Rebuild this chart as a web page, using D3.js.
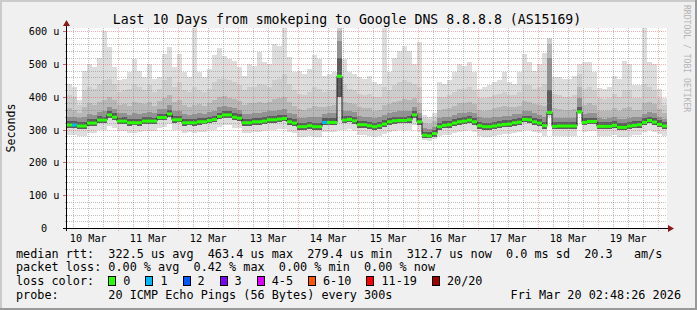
<!DOCTYPE html>
<html>
<head>
<meta charset="utf-8">
<script src="https://cdn.jsdelivr.net/npm/d3@7"></script>
<style>
  html, body { margin: 0; padding: 0; background: #f0f0f0; }
  svg { display: block; }
  text { font-family: "DejaVu Sans Mono", monospace; white-space: pre; }
</style>
</head>
<body>
<svg id="chart" width="697" height="310"></svg>
<script>
const title = 'Last 10 Days from smokeping to Google DNS 8.8.8.8 (AS15169)';
const startTime = Date.UTC(2026, 2, 10, 3, 30);
const stepHours = 2;
const yTicks = [0, 100, 200, 300, 400, 500, 600];

// one value per 2 hour step, microseconds
const rttMedian = [314,314,311,311,320,320,329,329,345,338,
  326,326,321,321,321,326,326,326,337,337,
  348,330,330,321,321,321,324,324,328,331,
  340,345,345,338,335,321,321,324,324,326,
  330,330,332,334,324,320,309,309,312,309,
  309,322,322,322,463,329,331,327,315,315,
  312,309,312,317,324,327,328,328,330,345,
  324,283,281,288,309,313,315,320,324,326,
  329,324,312,309,309,311,314,316,317,321,
  323,331,330,324,320,312,352,310,311,311,
  311,311,354,322,325,325,310,310,310,313,
  307,307,311,313,315,322,328,323,316,311];

const rttMax = [440,430,390,480,500,490,520,600,552,490,
  450,455,475,515,480,460,500,455,460,530,
  552,490,530,475,460,610,475,460,485,527,
  550,525,515,510,490,465,500,495,537,506,
  500,560,555,610,521,476,480,470,485,527,
  515,465,470,475,610,515,475,470,460,455,
  465,445,440,610,475,520,540,555,540,500,
  567,345,340,350,445,440,450,475,500,495,
  505,475,425,430,435,445,450,475,445,440,
  475,530,505,480,500,535,580,460,460,455,
  455,465,500,505,505,475,427,425,430,465,
  455,510,500,435,435,610,505,500,425,395];

const rttP90 = [405,400,375,420,430,425,440,450,455,440,
  415,420,425,440,430,420,435,415,425,450,
  460,430,445,420,415,430,420,415,425,445,
  455,455,450,445,435,420,430,430,440,435,
  430,450,455,470,440,420,410,405,415,430,
  425,415,420,420,610,440,425,420,410,405,
  410,400,400,430,420,435,445,450,445,440,
  430,335,332,340,400,400,405,415,425,425,
  430,420,395,395,400,405,408,415,405,405,
  415,440,435,425,430,440,575,410,405,400,
  400,405,470,425,430,420,395,392,395,410,
  400,420,420,398,398,440,430,420,395,375];

const rttP75 = [365,360,350,370,380,375,385,390,400,390,
  375,378,372,385,380,378,385,372,388,395,
  405,385,390,375,370,375,378,372,380,390,
  400,402,398,392,388,375,380,380,385,382,
  385,392,395,400,385,372,362,360,365,372,
  370,370,372,375,600,385,380,378,368,365,
  365,358,360,375,378,385,388,392,390,395,
  380,320,318,325,360,362,365,372,380,380,
  385,378,360,358,360,365,368,372,368,370,
  372,388,385,378,375,372,560,365,362,360,
  360,362,430,375,380,375,358,356,358,365,
  358,365,368,360,360,380,385,378,362,350];

const rttP65 = [340,338,335,338,348,346,355,356,370,362,
  350,352,346,350,348,352,354,350,362,364,
  375,356,358,348,345,348,350,348,354,358,
  368,372,370,365,360,348,348,352,352,354,
  356,358,360,362,352,348,336,335,340,338,
  338,348,350,350,570,356,356,354,342,340,
  338,335,338,344,350,354,356,358,358,370,
  352,305,302,308,335,338,340,345,350,352,
  355,350,338,335,335,338,340,342,343,347,
  348,358,356,350,346,340,520,336,336,335,
  335,336,395,348,350,350,334,333,334,338,
  331,333,336,338,340,348,354,350,340,332];

const rttP55 = [326,325,322,323,332,333,341,340,357,350,
  337,338,333,333,332,338,339,337,349,349,
  360,342,342,333,333,333,336,336,340,343,
  352,357,357,350,347,333,333,336,336,338,
  342,342,344,346,336,332,321,321,324,321,
  321,334,334,334,520,341,343,339,327,327,
  324,321,324,329,336,339,340,340,342,357,
  336,294,292,298,321,325,327,332,336,338,
  341,336,324,321,321,323,326,328,329,333,
  335,343,342,336,332,324,420,322,323,323,
  323,323,370,334,337,337,322,322,322,325,
  319,319,323,325,327,334,340,335,328,323];

const rttP40 = [305,306,302,302,311,312,320,320,334,329,
  317,318,312,313,312,317,318,317,328,329,
  339,321,322,312,313,312,315,316,319,322,
  331,336,336,329,326,312,312,315,315,317,
  321,321,323,325,315,311,300,300,303,300,
  300,313,313,313,400,320,322,318,306,306,
  303,300,303,308,315,318,319,319,321,336,
  315,275,273,279,300,304,306,311,315,317,
  320,315,303,300,300,302,305,307,308,312,
  314,322,321,315,311,303,345,301,302,302,
  302,302,350,313,316,316,301,301,301,304,
  298,298,302,304,306,313,319,314,307,302];

const rttMin = [284,285,282,281,289,291,298,300,312,306,
  295,297,290,291,292,296,296,295,306,307,
  316,300,300,291,292,290,294,294,298,300,
  308,314,313,306,304,290,291,294,293,296,
  299,300,301,303,293,289,279,279,282,279,
  279,292,292,292,300,299,301,297,285,285,
  282,279,282,287,294,297,298,298,300,314,
  294,268,266,272,280,283,285,290,294,296,
  298,293,282,279,279,281,284,286,287,291,
  293,300,299,293,289,282,340,280,281,281,
  281,281,348,292,295,295,280,280,280,283,
  277,277,281,283,285,292,298,293,286,281];

// steps where one of the 20 pings was lost
const lossSteps = [1, 51];

const lossLabels = ['0', '1', '2', '3', '4-5', '6-10', '11-19', '20/20'];
const lossColors = ['#26ff00', '#00b8ff', '#0059ff', '#7e00ff', '#dd00ff', '#ff5500', '#ff0000', '#a10000'];

const legendLines = [
  'median rtt:  322.5 us avg  463.4 us max  279.4 us min  312.7 us now  0.0 ms sd  20.3   am/s',
  'packet loss: 0.00 % avg  0.42 % max  0.00 % min  0.00 % now'
];
const probeLine = 'probe:       20 ICMP Echo Pings (56 Bytes) every 300s';
const stampLine = 'Fri Mar 20 02:48:26 2026';

const width = 697;
const height = 310;
const area = { left: 67, right: 667, top: 28, bottom: 228 };
const legendFont = 11.8;
const charW = legendFont * 0.602;

const svg = d3.select('#chart');

// background and 3d border
svg.append('rect').attr('width', width).attr('height', height).attr('fill', '#f0f0f0');
svg.append('rect').attr('width', width).attr('height', 2).attr('fill', '#cbcbcb');
svg.append('rect').attr('width', 2).attr('height', height).attr('fill', '#cbcbcb');
svg.append('rect').attr('y', height - 2).attr('width', width).attr('height', 2).attr('fill', '#999999');
svg.append('rect').attr('x', width - 2).attr('width', 2).attr('height', height).attr('fill', '#999999');

svg.append('rect')
  .attr('x', area.left).attr('y', area.top)
  .attr('width', area.right - area.left).attr('height', area.bottom - area.top)
  .attr('fill', '#ffffff');

const hour = 3600 * 1000;
const n = rttMedian.length;
const endTime = startTime + n * stepHours * hour;

const x = d3.scaleUtc()
  .domain([new Date(startTime), new Date(endTime)])
  .range([area.left, area.right]);

const y = d3.scaleLinear().domain([0, 610]).range([area.bottom, area.top]);

const rows = rttMedian.map((m, i) => ({
  t: new Date(startTime + i * stepHours * hour),
  t1: new Date(startTime + (i + 1) * stepHours * hour),
  med: m,
  max: rttMax[i], p90: rttP90[i], p75: rttP75[i], p65: rttP65[i], p55: rttP55[i],
  p40: rttP40[i], min: rttMin[i],
  loss: lossSteps.includes(i) ? 1 : 0
}));
// closing point so the last step gets its width
const stepRows = rows.concat([{ ...rows[n - 1], t: new Date(endTime) }]);

// smoke, outer band first
const smoke = [
  ['min', 'max', '#dddddd'],
  ['p40', 'p90', '#cdcdcd'],
  ['p40', 'p75', '#b7b7b7'],
  ['p40', 'p65', '#929292'],
  ['p40', 'p55', '#5c5c5c']
];

const smokeG = svg.append('g').attr('shape-rendering', 'crispEdges');
smoke.forEach(([lo, hi, color]) => {
  smokeG.append('path')
    .datum(stepRows)
    .attr('fill', color)
    .attr('d', d3.area()
      .curve(d3.curveStepAfter)
      .x(d => x(d.t))
      .y0(d => y(d[lo]))
      .y1(d => y(Math.min(d[hi], 610))));
});

// grid
const grid = svg.append('g').attr('shape-rendering', 'crispEdges');
const minorY = d3.range(0, 611, 20).filter(v => v % 100 !== 0);
grid.selectAll('.hminor').data(minorY).join('line')
  .attr('x1', area.left).attr('x2', area.right)
  .attr('y1', d => Math.round(y(d)) + 0.5).attr('y2', d => Math.round(y(d)) + 0.5)
  .attr('stroke', 'rgba(130,130,130,0.5)').attr('stroke-dasharray', '1,1');

const minorX = d3.utcHour.every(6).range(x.domain()[0], x.domain()[1])
  .filter(d => d.getUTCHours() !== 0);
grid.selectAll('.vminor').data(minorX).join('line')
  .attr('x1', d => Math.floor(x(d)) + 0.5).attr('x2', d => Math.floor(x(d)) + 0.5)
  .attr('y1', area.top).attr('y2', area.bottom + 2)
  .attr('stroke', 'rgba(130,130,130,0.5)').attr('stroke-dasharray', '1,1');

grid.selectAll('.hmajor').data(yTicks.filter(v => v > 0)).join('line')
  .attr('x1', area.left).attr('x2', area.right)
  .attr('y1', d => Math.round(y(d)) + 0.5).attr('y2', d => Math.round(y(d)) + 0.5)
  .attr('stroke', 'rgba(255,0,0,0.3)').attr('stroke-dasharray', '1,1');

const days = d3.utcDay.range(x.domain()[0], x.domain()[1]);
grid.selectAll('.vmajor').data(days).join('line')
  .attr('x1', d => Math.floor(x(d)) + 0.5).attr('x2', d => Math.floor(x(d)) + 0.5)
  .attr('y1', area.top).attr('y2', area.bottom + 3)
  .attr('stroke', 'rgba(255,0,0,0.3)').attr('stroke-dasharray', '1,1');

// y ticks
grid.selectAll('.ytick').data(d3.range(0, 611, 20)).join('line')
  .attr('x1', d => d % 100 === 0 ? area.left - 4 : area.left - 2).attr('x2', area.left)
  .attr('y1', d => Math.round(y(d)) + 0.5).attr('y2', d => Math.round(y(d)) + 0.5)
  .attr('stroke', d => d % 100 === 0 ? '#cc6666' : '#aaaaaa');

// median: dark connector line, then loss coloured steps
svg.append('path')
  .datum(stepRows)
  .attr('fill', 'none')
  .attr('stroke', '#202020')
  .attr('stroke-width', 1)
  .attr('d', d3.line().curve(d3.curveStepAfter).x(d => x(d.t)).y(d => y(d.med)));

svg.append('g').selectAll('line').data(rows).join('line')
  .attr('x1', d => x(d.t)).attr('x2', d => x(d.t1))
  .attr('y1', d => y(d.med)).attr('y2', d => y(d.med))
  .attr('stroke', d => lossColors[d.loss])
  .attr('stroke-width', 3);

// axes
const axis = svg.append('g').attr('shape-rendering', 'crispEdges');
axis.append('line')
  .attr('x1', area.left - 4).attr('x2', area.right + 3)
  .attr('y1', area.bottom + 0.5).attr('y2', area.bottom + 0.5)
  .attr('stroke', '#000');
axis.append('line')
  .attr('x1', area.left - 0.5).attr('x2', area.left - 0.5)
  .attr('y1', area.bottom + 3).attr('y2', area.top - 3)
  .attr('stroke', '#000');
svg.append('path')
  .attr('d', `M${area.right + 1},${area.bottom - 3}L${area.right + 7},${area.bottom + 0.5}L${area.right + 1},${area.bottom + 4}Z`)
  .attr('fill', '#8b1a1a');
svg.append('path')
  .attr('d', `M${area.left - 4},${area.top - 2}L${area.left - 0.5},${area.top - 8}L${area.left + 3},${area.top - 2}Z`)
  .attr('fill', '#8b1a1a');

// axis labels
svg.append('g').selectAll('text').data(yTicks).join('text')
  .attr('x', d => d === 0 ? 59.5 - 2 * 10.2 * 0.602 : 59.5)
  .attr('y', d => y(d) + 4)
  .attr('text-anchor', 'end')
  .attr('font-size', 10.2)
  .attr('fill', '#000')
  .text(d => d === 0 ? '0' : d + ' u');

const noons = d3.utcDay.range(d3.utcDay.floor(x.domain()[0]), x.domain()[1])
  .map(d => d3.utcHour.offset(d, 12))
  .filter(d => d >= x.domain()[0] && d <= x.domain()[1]);
svg.append('g').selectAll('text').data(noons).join('text')
  .attr('x', d => x(d))
  .attr('y', 241.5)
  .attr('text-anchor', 'middle')
  .attr('font-size', 10.2)
  .attr('fill', '#000')
  .text(d => d3.utcFormat('%d %b')(d));

svg.append('text')
  .attr('transform', `translate(15,${(area.top + area.bottom) / 2}) rotate(-90)`)
  .attr('text-anchor', 'middle')
  .attr('font-size', 11.6)
  .attr('fill', '#000')
  .text('Seconds');

svg.append('text')
  .attr('x', 347).attr('y', 24)
  .attr('text-anchor', 'middle')
  .attr('font-size', 13.2)
  .attr('fill', '#000')
  .text(title);

svg.append('text')
  .attr('transform', 'translate(683.5,5) rotate(90)')
  .attr('font-size', 8.1)
  .attr('fill', '#b4b4b4')
  .text('RRDTOOL / TOBI OETIKER');

// legend
const rowY = [257.5, 271.3, 285.1, 298.9];
legendLines.forEach((line, i) => {
  svg.append('text')
    .attr('x', 16).attr('y', rowY[i])
    .attr('font-size', legendFont)
    .attr('fill', '#000')
    .text(line);
});

svg.append('text')
  .attr('x', 16).attr('y', rowY[2])
  .attr('font-size', legendFont)
  .attr('fill', '#000')
  .text('loss color:');

let lx = 108.3;
lossLabels.forEach((label, i) => {
  svg.append('rect')
    .attr('x', lx + 0.5).attr('y', 276.5)
    .attr('width', 7).attr('height', 9)
    .attr('fill', lossColors[i])
    .attr('stroke', '#000')
    .attr('shape-rendering', 'crispEdges');
  svg.append('text')
    .attr('x', lx + 15).attr('y', rowY[2])
    .attr('font-size', legendFont)
    .attr('fill', '#000')
    .text(label);
  lx += 15 + label.length * charW + 15;
});

svg.append('text')
  .attr('x', 16).attr('y', rowY[3])
  .attr('font-size', legendFont)
  .attr('fill', '#000')
  .text(probeLine);

svg.append('text')
  .attr('x', 681).attr('y', rowY[3])
  .attr('text-anchor', 'end')
  .attr('font-size', legendFont)
  .attr('fill', '#000')
  .text(stampLine);
</script>
</body>
</html>
